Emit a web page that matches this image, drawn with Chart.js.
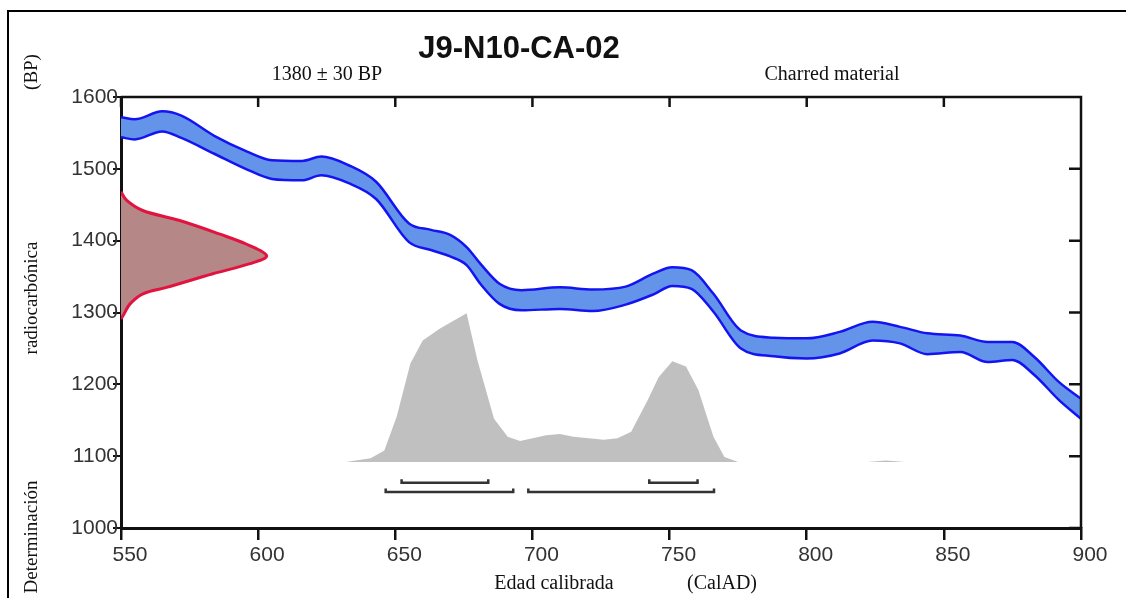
<!DOCTYPE html>
<html>
<head>
<meta charset="utf-8">
<script src="https://cdn.jsdelivr.net/npm/chart.js@4"></script>
<style>
  html, body { margin: 0; padding: 0; background: #fff; }
  #wrap { width: 1126px; height: 598px; }
</style>
</head>
<body>
<div id="wrap"><canvas id="calChart" width="1126" height="598"></canvas></div>
<script>
// Calibration curve (band), years AD and radiocarbon age BP
const curveYears = [550, 555, 565, 572, 584, 596, 605, 616, 623, 633, 643, 655, 663, 670, 676, 681, 688, 696, 710, 722, 734, 744, 751, 758, 766, 776, 788, 800, 812, 824, 834, 844, 856, 866, 875, 883, 892, 900];
const curveUpper = [1572, 1569, 1580, 1574, 1546, 1524, 1512, 1511, 1517, 1505, 1482, 1424, 1415, 1408, 1391, 1368, 1340, 1331, 1335, 1332, 1336, 1354, 1363, 1359, 1326, 1275, 1265, 1264, 1273, 1287, 1280, 1271, 1268, 1259, 1259, 1238, 1203, 1180];
const curveLower = [1544, 1541, 1552, 1543, 1521, 1499, 1486, 1484, 1491, 1480, 1458, 1398, 1387, 1378, 1366, 1340, 1312, 1303, 1305, 1302, 1311, 1325, 1337, 1333, 1301, 1250, 1239, 1236, 1243, 1261, 1257, 1242, 1245, 1231, 1234, 1213, 1178, 1152];

// Radiocarbon determination (1380 +/- 30 BP), drawn along the y axis
const dateBP = [1468, 1456, 1442, 1428, 1409, 1395, 1379, 1368, 1354, 1335, 1326, 1312, 1298, 1291];
const dateYears = [550, 552.1, 557.9, 571.4, 586.1, 595.8, 603.1, 597.0, 583.5, 566.6, 558, 553.3, 551.1, 550];

// Calibrated probability (grey), plotted on the BP scale above its baseline
const probBase = 1092;
const probYears = [632, 641, 646, 650.5, 655.5, 660, 666, 676, 680, 686, 691, 695.5, 705, 710, 715, 726, 731, 736, 742, 746, 751, 756, 760.5, 766, 770, 775, 822, 829, 836];
const probValues = [1092, 1097, 1108, 1155, 1229, 1261, 1277, 1299, 1233, 1152, 1127, 1121, 1129, 1131, 1127, 1123, 1125, 1134, 1178, 1210, 1232, 1225, 1192, 1127, 1099, 1092, 1092, 1094, 1092];

// Calibrated ranges (1 sigma and 2 sigma)
const sigma1Ranges = [[652.3, 683.9], [742.6, 760.2]];
const sigma2Ranges = [[646.5, 693.0], [698.5, 766.2]];
const sigma1Level = 1063;
const sigma2Level = 1050;

// Axes
const xTicks = [550, 600, 650, 700, 750, 800, 850, 900];
const yTicks = [1000, 1100, 1200, 1300, 1400, 1500, 1600];

const SANS = '"Liberation Sans", Arial, sans-serif';
const SERIF = '"Liberation Serif", "Times New Roman", serif';

function toPoints(xs, ys) {
  return xs.map((x, i) => ({ x: x, y: ys[i] }));
}

// Bracket with small upturned ends
function bracketData(range, level) {
  return [
    { x: range[0], y: level + 5 },
    { x: range[0], y: level },
    { x: range[1], y: level },
    { x: range[1], y: level + 5 }
  ];
}

function buildBrackets() {
  const sets = [];
  sigma1Ranges.forEach(r => sets.push(bracketData(r, sigma1Level)));
  sigma2Ranges.forEach(r => sets.push(bracketData(r, sigma2Level)));
  return sets.map(d => ({
    type: 'scatter',
    data: d,
    showLine: true,
    borderColor: '#333',
    borderWidth: 2.5,
    pointRadius: 0,
    fill: false,
    order: 0
  }));
}

// Frame, top/right box with inward ticks, and all the texts
const decorPlugin = {
  id: 'decor',
  afterDraw(chart) {
    const { ctx, chartArea: a, scales } = chart;
    const x = scales.x, y = scales.y;
    ctx.save();

    ctx.strokeStyle = '#111';
    ctx.lineWidth = 2.5;
    ctx.beginPath();
    ctx.moveTo(a.left, a.top);
    ctx.lineTo(a.right, a.top);
    ctx.lineTo(a.right, a.bottom);
    xTicks.forEach(v => {
      const px = x.getPixelForValue(v);
      ctx.moveTo(px, a.top);
      ctx.lineTo(px, a.top + 10);
    });
    yTicks.forEach(v => {
      const py = y.getPixelForValue(v);
      ctx.moveTo(a.right - 12, py);
      ctx.lineTo(a.right, py);
    });
    ctx.stroke();

    // outer picture frame
    ctx.lineWidth = 2;
    ctx.strokeStyle = '#000';
    ctx.beginPath();
    ctx.moveTo(8, chart.height);
    ctx.lineTo(8, 11);
    ctx.lineTo(chart.width, 11);
    ctx.stroke();

    ctx.fillStyle = '#111';
    ctx.textAlign = 'center';
    ctx.textBaseline = 'alphabetic';

    ctx.font = 'bold 31px ' + SANS;
    ctx.fillText('J9-N10-CA-02', 519, 58);

    ctx.font = '20px ' + SERIF;
    ctx.fillText('1380 \u00b1 30 BP', 327, 80);
    ctx.fillText('Charred material', 832, 80);

    ctx.fillText('Edad calibrada', 554, 589);
    ctx.fillText('(CalAD)', 722, 589);

    ctx.font = '19px ' + SERIF;
    [['Determinación', 537], ['radiocarbónica', 298], ['(BP)', 72]].forEach(([t, cy]) => {
      ctx.save();
      ctx.translate(37, cy);
      ctx.rotate(-Math.PI / 2);
      ctx.fillText(t, 0, 0);
      ctx.restore();
    });

    ctx.restore();
  }
};

function initChart() {
  const ctx = document.getElementById('calChart').getContext('2d');
  new Chart(ctx, {
    type: 'scatter',
    data: {
      datasets: [
        {
          // red determination curve
          data: toPoints(dateYears, dateBP),
          showLine: true,
          borderColor: '#e2143f',
          borderWidth: 3,
          backgroundColor: '#b58787',
          fill: 'shape',
          tension: 0.35,
          pointRadius: 0,
          order: 1
        },
        {
          // calibration curve upper edge
          data: toPoints(curveYears, curveUpper),
          showLine: true,
          borderColor: '#1414f0',
          borderWidth: 2.5,
          backgroundColor: '#6493ea',
          fill: '+1',
          cubicInterpolationMode: 'monotone',
          pointRadius: 0,
          order: 3
        },
        {
          // calibration curve lower edge
          data: toPoints(curveYears, curveLower),
          showLine: true,
          borderColor: '#1414f0',
          borderWidth: 2.5,
          fill: false,
          cubicInterpolationMode: 'monotone',
          pointRadius: 0,
          order: 2
        },
        {
          // grey calibrated probability
          data: toPoints(probYears, probValues),
          showLine: true,
          borderWidth: 0,
          borderColor: 'rgba(0,0,0,0)',
          backgroundColor: '#c0c0c0',
          fill: { value: probBase },
          tension: 0,
          pointRadius: 0,
          order: 6
        },
        ...buildBrackets()
      ]
    },
    options: {
      responsive: false,
      animation: false,
      events: [],
      layout: { padding: { top: 97, right: 45, left: 0, bottom: 0 } },
      plugins: {
        legend: { display: false },
        tooltip: { enabled: false },
        title: { display: false }
      },
      scales: {
        x: {
          type: 'linear',
          min: 550,
          max: 900,
          afterBuildTicks: s => { s.ticks = xTicks.map(v => ({ value: v })); },
          afterFit: s => { s.height = 70; },
          grid: { drawOnChartArea: false, drawTicks: true, tickLength: 12, color: '#111', lineWidth: 2.5 },
          border: { display: true, color: '#111', width: 3 },
          ticks: {
            color: '#333',
            font: { family: SANS, size: 21 },
            padding: 3,
            labelOffset: 9,
            maxRotation: 0,
            callback: v => String(v)
          }
        },
        y: {
          min: 1000,
          max: 1600,
          afterBuildTicks: s => { s.ticks = yTicks.map(v => ({ value: v })); },
          afterFit: s => { s.width = 121; },
          grid: { drawOnChartArea: false, drawTicks: true, tickLength: 8, color: '#111', lineWidth: 2 },
          border: { display: true, color: '#111', width: 3 },
          ticks: {
            color: '#333',
            font: { family: SANS, size: 21 },
            padding: -5,
            callback: v => String(v)
          }
        }
      }
    },
    plugins: [decorPlugin]
  });
}

document.addEventListener('DOMContentLoaded', initChart);
</script>
</body>
</html>
